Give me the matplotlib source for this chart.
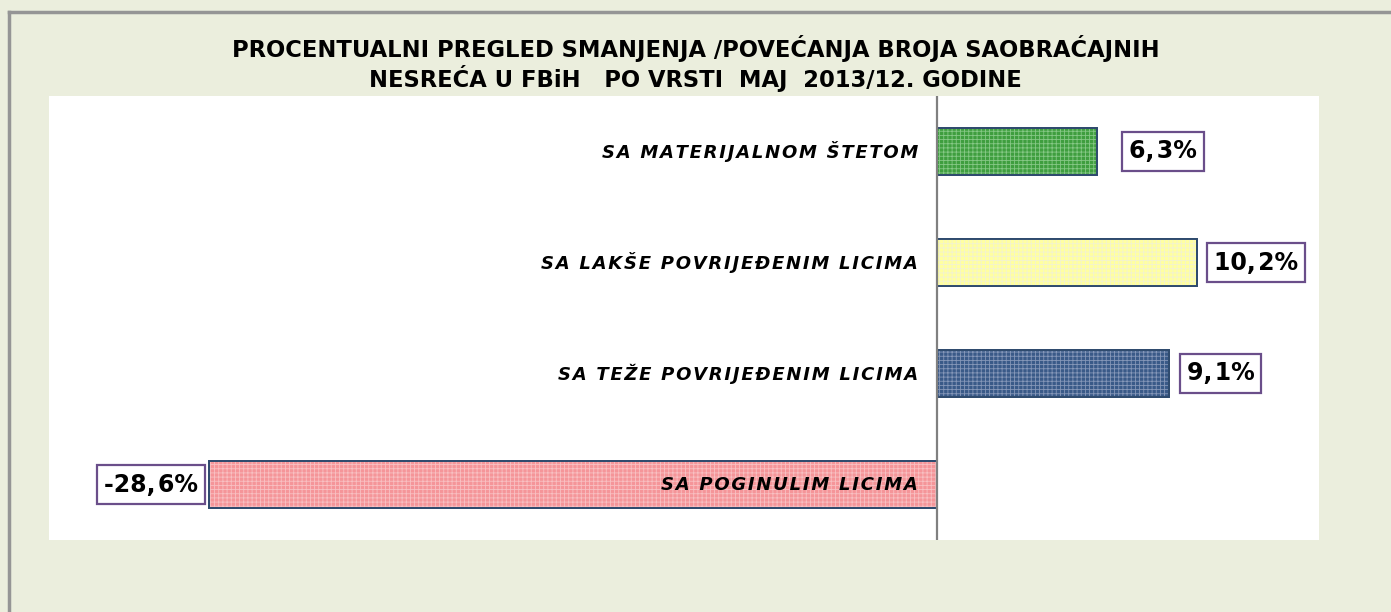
import matplotlib.pyplot as plt
from matplotlib.lines import Line2D

# categories bottom -> top
categories = ["SA POGINULIM LICIMA", "SA TEŽE POVRIJEĐENIM LICIMA",
              "SA LAKŠE POVRIJEĐENIM LICIMA", "SA MATERIJALNOM ŠTETOM"]
values = [-28.6, 9.1, 10.2, 6.3]
value_labels = ["-28,6%", "9,1%", "10,2%", "6,3%"]
colors = ["#F59599", "#3A5A88", "#FFFFA0", "#3F9E3F"]
hatch_colors = ["#F8C0C2", "#8597B8", "#F2F2D0", "#86C886"]

W, H = 1391, 612
PX = 25.45  # pixels per percent


def spaced(s, sep="\u200a"):
    return sep.join(s)


fig = plt.figure(figsize=(W / 100, H / 100), dpi=100)
fig.patch.set_facecolor("#EBEEDD")

# outer frame (left and top gray edge)
fig.add_artist(Line2D([9 / W, 9 / W], [0, 1 - 12 / H], color="#959595", lw=2.5))
fig.add_artist(Line2D([9 / W, 1], [1 - 12 / H, 1 - 12 / H], color="#959595", lw=2.5))

ax = fig.add_axes([49 / W, 1 - 540 / H, (1319 - 49) / W, (540 - 96) / H])
ax.set_facecolor("white")
ax.set_xlim(-888 / PX, 382 / PX)
ax.set_ylim(-0.5, 3.5)
for s in ax.spines.values():
    s.set_visible(False)
ax.set_xticks([])
ax.set_yticks([])
ax.axvline(0, color="#808080", lw=1.6, zorder=5)

y = list(range(len(categories)))
plt.rcParams["hatch.linewidth"] = 0.6
for yi, v, c, hc in zip(y, values, colors, hatch_colors):
    ax.barh(yi, v, height=0.43, color=c, edgecolor="#2F4B6E", lw=1.2, zorder=2)
    ax.barh(yi, v, height=0.43, color="none", edgecolor=hc, hatch="++++", lw=0, zorder=3)
    ax.barh(yi, v, height=0.43, color="none", edgecolor="#2F4B6E", lw=1.4, zorder=4)

# gap (px) between bar end and its value box, as placed in the original
gaps = [4, 11, 10, 25]
box = dict(boxstyle="square,pad=0.3", fc="white", ec="#6A4E8A", lw=1.6)
for yi, v, lab, cat, g in zip(y, values, value_labels, categories, gaps):
    ax.text(-19 / PX, yi, spaced(cat), ha="right", va="center", fontsize=13,
            fontweight="heavy", fontstyle="italic", color="black", zorder=6)
    lab = lab.replace(",", ",\u200a")
    off = (g + 7) / PX
    if v >= 0:
        ax.text(v + off, yi, lab, ha="left", va="center", fontsize=17,
                fontweight="bold", bbox=box, zorder=6)
    else:
        ax.text(v - off, yi, lab, ha="right", va="center", fontsize=17,
                fontweight="bold", bbox=box, zorder=6)

fig.text(0.5, 1 - 48 / H,
         "PROCENTUALNI PREGLED SMANJENJA /POVEĆANJA BROJA SAOBRAĆAJNIH",
         ha="center", va="center", fontsize=16.3, fontweight="bold")
fig.text(0.5, 1 - 78 / H,
         "NESREĆA U FBiH   PO VRSTI  MAJ  2013/12. GODINE",
         ha="center", va="center", fontsize=16.3, fontweight="bold")

fig.savefig("out.png", dpi=100, facecolor=fig.get_facecolor())
